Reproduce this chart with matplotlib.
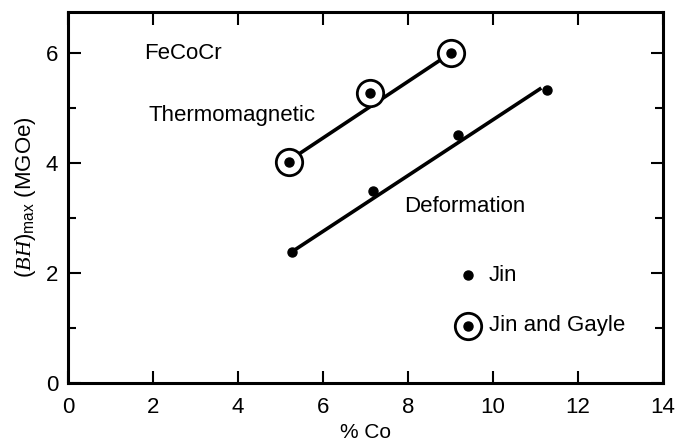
import matplotlib
matplotlib.use('Agg')
import matplotlib.pyplot as plt
from matplotlib.ticker import MultipleLocator

plt.rcParams['font.family'] = ['Liberation Sans', 'DejaVu Sans']
plt.rcParams['mathtext.fontset'] = 'custom'
plt.rcParams['mathtext.it'] = 'Liberation Serif:italic'
plt.rcParams['mathtext.rm'] = 'Liberation Sans'

# 数据：Jin and Gayle（热磁处理）
thermo_co = [5.2, 7.1, 9.0]
thermo_bh = [4.02, 5.27, 6.0]
thermo_fit_co = [5.3, 8.9]
thermo_fit_bh = [4.1, 5.95]

# 数据：Jin（变形处理）
deform_co = [5.27, 7.18, 9.18, 11.27]
deform_bh = [2.39, 3.5, 4.51, 5.33]
deform_fit_co = [5.27, 11.1]
deform_fit_bh = [2.39, 5.35]

fig = plt.figure(figsize=(6.83, 4.48), dpi=100)
ax = fig.add_axes([0.0996, 0.145, 0.8712, 0.828])

# 拟合直线
ax.plot(thermo_fit_co, thermo_fit_bh, color='black', lw=2.6, zorder=1)
ax.plot(deform_fit_co, deform_fit_bh, color='black', lw=2.6, zorder=1)

# 数据点
ax.plot(thermo_co, thermo_bh, 'o', ms=19, mfc='white', mec='black', mew=2, zorder=2)
ax.plot(thermo_co, thermo_bh, 'o', ms=6.5, color='black', zorder=3)
ax.plot(deform_co, deform_bh, 'o', ms=6.5, color='black', zorder=3)

# 图例（手工）
ax.plot([9.4], [1.96], 'o', ms=6.5, color='black')
ax.text(9.9, 1.96, 'Jin', fontsize=16, va='center')
ax.plot([9.4], [1.04], 'o', ms=19, mfc='white', mec='black', mew=2)
ax.plot([9.4], [1.04], 'o', ms=6.5, color='black')
ax.text(9.9, 1.04, 'Jin and Gayle', fontsize=16, va='center')

# 文字标注
ax.text(1.8, 6.0, 'FeCoCr', fontsize=16, va='center')
ax.text(1.9, 4.87, 'Thermomagnetic', fontsize=16, va='center')
ax.text(7.9, 3.22, 'Deformation', fontsize=16, va='center')

ax.set_xlim(0, 14)
ax.set_ylim(0, 6.75)
ax.set_xticks(range(0, 15, 2))
ax.set_yticks([0, 2, 4, 6])
ax.yaxis.set_minor_locator(MultipleLocator(1))
ax.tick_params(which='both', direction='in', top=True, right=True, width=1.5, labelsize=16)
ax.tick_params(which='major', length=9)
ax.tick_params(axis='x', which='major', pad=10)
ax.tick_params(axis='y', which='major', pad=7)
ax.tick_params(which='minor', length=6)
for s in ax.spines.values():
    s.set_linewidth(2.2)

ax.set_xlabel('% Co', fontsize=15, labelpad=4)
ax.set_ylabel(r'$(\mathit{BH})_{\rm max}$ (MGOe)', fontsize=16, labelpad=6)

plt.savefig('out.png', dpi=100)
